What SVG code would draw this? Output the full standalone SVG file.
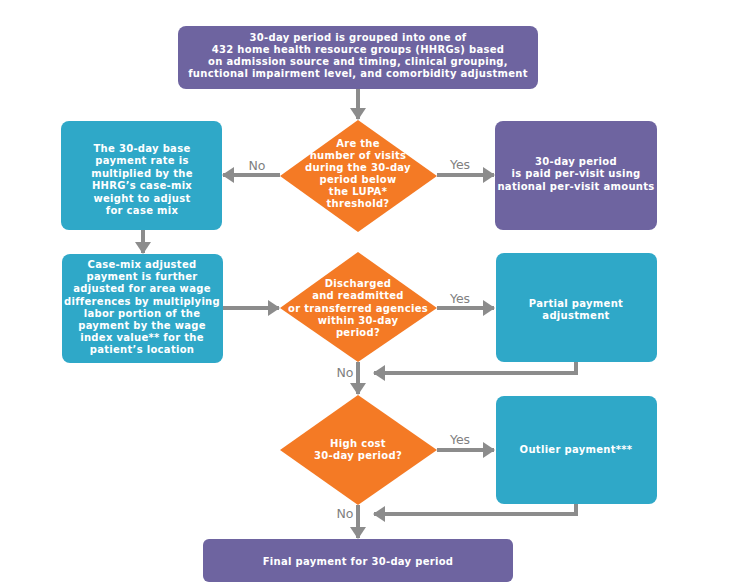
<svg xmlns="http://www.w3.org/2000/svg" width="732" height="585" viewBox="0 0 732 585">
<style>
.p{fill:#6E64A0}
.t{fill:#2FA8C8}
.d{fill:#F47A25}
.w{fill:#fff;font-family:"DejaVu Sans","Liberation Sans",sans-serif;font-weight:bold;font-size:10px;letter-spacing:0.3px;text-anchor:middle}
.lbl{fill:#7F7F7F;font-family:"DejaVu Sans","Liberation Sans",sans-serif;font-size:12.5px;text-anchor:middle}
.c{fill:none;stroke:#8C8C8C;stroke-width:4}
</style>
<defs>
<marker id="ah" viewBox="0 0 12 16" refX="11" refY="8" markerWidth="12" markerHeight="16" markerUnits="userSpaceOnUse" orient="auto">
<path d="M0,0 L12,8 L0,16 z" fill="#8C8C8C"/>
</marker>
</defs>
<rect width="732" height="585" fill="#fff"/>
<g id="connectors">
<path class="c" d="M358,89 V119" marker-end="url(#ah)"/>
<path class="c" d="M280,175 H223" marker-end="url(#ah)"/>
<path class="c" d="M437,175 H494" marker-end="url(#ah)"/>
<path class="c" d="M143,230 V253" marker-end="url(#ah)"/>
<path class="c" d="M223,308 H279" marker-end="url(#ah)"/>
<path class="c" d="M437,308 H494" marker-end="url(#ah)"/>
<path class="c" d="M358,362 V394" marker-end="url(#ah)"/>
<path class="c" d="M576,362 V373 H374" marker-end="url(#ah)"/>
<path class="c" d="M437,450 H494" marker-end="url(#ah)"/>
<path class="c" d="M576,504 V514 H374" marker-end="url(#ah)"/>
<path class="c" d="M358,505 V538" marker-end="url(#ah)"/>
</g>
<g id="labels">
<text class="lbl" x="257" y="170">No</text>
<text class="lbl" x="460" y="169">Yes</text>
<text class="lbl" x="460" y="303">Yes</text>
<text class="lbl" x="345" y="377">No</text>
<text class="lbl" x="460" y="444">Yes</text>
<text class="lbl" x="345" y="518">No</text>
</g>
<g id="start">
<rect class="p" x="178" y="26" width="360" height="63" rx="8"/>
<text class="w" x="358" y="41">30-day period is grouped into one of</text>
<text class="w" x="358" y="53">432 home health resource groups (HHRGs) based</text>
<text class="w" x="358" y="65">on admission source and timing, clinical grouping,</text>
<text class="w" x="358" y="77">functional impairment level, and comorbidity adjustment</text>
</g>
<g id="lupa">
<polygon class="d" points="358,120 437,176 358,232 280,176"/>
<text class="w" x="358" y="147">Are the</text>
<text class="w" x="358" y="159">number of visits</text>
<text class="w" x="358" y="171">during the 30-day</text>
<text class="w" x="358" y="183">period below</text>
<text class="w" x="358" y="195">the LUPA*</text>
<text class="w" x="358" y="207">threshold?</text>
</g>
<g id="casemix">
<rect class="t" x="61" y="121" width="161" height="109" rx="8"/>
<text class="w" x="142" y="152">The 30-day base</text>
<text class="w" x="142" y="164">payment rate is</text>
<text class="w" x="142" y="177">multiplied by the</text>
<text class="w" x="142" y="189">HHRG’s case-mix</text>
<text class="w" x="142" y="202">weight to adjust</text>
<text class="w" x="142" y="214">for case mix</text>
</g>
<g id="pervisit">
<rect class="p" x="495" y="121" width="162" height="109" rx="8"/>
<text class="w" x="576" y="165">30-day period</text>
<text class="w" x="576" y="177">is paid per-visit using</text>
<text class="w" x="576" y="190">national per-visit amounts</text>
</g>
<g id="wage">
<rect class="t" x="62" y="254" width="161" height="109" rx="8"/>
<text class="w" x="142" y="268">Case-mix adjusted</text>
<text class="w" x="142" y="280">payment is further</text>
<text class="w" x="142" y="292">adjusted for area wage</text>
<text class="w" x="142" y="305">differences by multiplying</text>
<text class="w" x="142" y="317">labor portion of the</text>
<text class="w" x="142" y="329">payment by the wage</text>
<text class="w" x="142" y="341">index value** for the</text>
<text class="w" x="142" y="353">patient’s location</text>
</g>
<g id="discharged">
<polygon class="d" points="358,252 437,308 358,362 280,308"/>
<text class="w" x="358" y="287">Discharged</text>
<text class="w" x="358" y="299">and readmitted</text>
<text class="w" x="358" y="312">or transferred agencies</text>
<text class="w" x="358" y="324">within 30-day</text>
<text class="w" x="358" y="336">period?</text>
</g>
<g id="partial">
<rect class="t" x="496" y="253" width="161" height="109" rx="8"/>
<text class="w" x="576" y="307">Partial payment</text>
<text class="w" x="576" y="319">adjustment</text>
</g>
<g id="highcost">
<polygon class="d" points="358,395 437,450 358,505 280,450"/>
<text class="w" x="358" y="447">High cost</text>
<text class="w" x="358" y="459">30-day period?</text>
</g>
<g id="outlier">
<rect class="t" x="496" y="396" width="161" height="108" rx="8"/>
<text class="w" x="576" y="453">Outlier payment***</text>
</g>
<g id="final">
<rect class="p" x="203" y="539" width="310" height="43" rx="6"/>
<text class="w" x="358" y="565">Final payment for 30-day period</text>
</g>
</svg>
